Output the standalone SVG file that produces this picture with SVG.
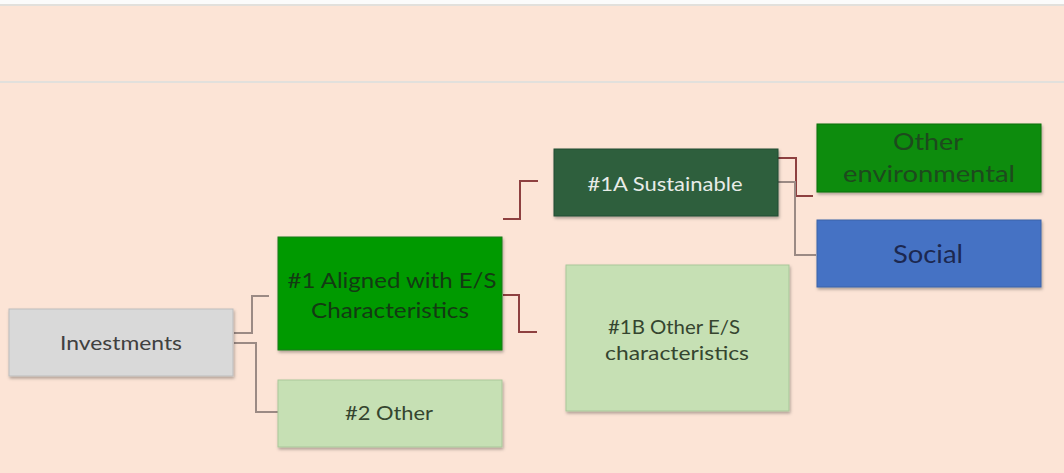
<svg xmlns="http://www.w3.org/2000/svg" width="1064" height="473" viewBox="0 0 1064 473">
<defs>
<filter id="sh" x="-10%" y="-10%" width="125%" height="130%">
<feDropShadow dx="1" dy="2" stdDeviation="1.5" flood-color="#000" flood-opacity="0.3"/>
</filter>
</defs>
<style>
.box{filter:url(#sh);stroke-width:1}
text{font-family:Lato,"Open Sans","Liberation Sans",sans-serif;text-anchor:middle;dominant-baseline:central}
.c{fill:none;stroke-width:2}
.red{stroke:#8e4040}
.gry{stroke:#9b8a84}
</style>
<rect x="0" y="0" width="1064" height="473" fill="#fce4d6"/>
<rect x="0" y="0" width="1064" height="4" fill="#fbfbfb"/>
<rect x="0" y="4" width="1064" height="2" fill="#e2e0dc"/>
<rect x="0" y="81" width="1064" height="2" fill="#e2e0dc"/>
<g id="connectors">
<path class="c gry" d="M234 333 H252 V296 H269"/>
<path class="c gry" d="M234 343 H256 V412 H278"/>
<path class="c red" d="M503 295 H519 V332 H537"/>
<path class="c red" d="M503 219 H520 V181 H538"/>
<path class="c red" d="M778 158 H796 V196 H813"/>
<path class="c gry" d="M778 182 H795 V255 H816"/>
</g>
<g id="investments">
<rect class="box" x="9" y="309" width="224" height="67" fill="#d9d9d9" stroke="#bdbdbd"/>
<text x="121" y="342" font-size="20" fill="#404040" textLength="122" lengthAdjust="spacingAndGlyphs">Investments</text>
</g>
<g id="aligned">
<rect class="box" x="278" y="237" width="224" height="113" fill="#049a04" stroke="#1c7a1c"/>
<text x="392" y="279" font-size="22" fill="#133a13" textLength="209" lengthAdjust="spacingAndGlyphs">#1 Aligned with E/S</text>
<text x="390" y="309" font-size="22" fill="#133a13" textLength="158" lengthAdjust="spacingAndGlyphs">Characteristics</text>
</g>
<g id="other2">
<rect class="box" x="278" y="380" width="224" height="67" fill="#c6e0b4" stroke="#a9c79a"/>
<text x="389" y="412" font-size="20" fill="#35452f" textLength="88" lengthAdjust="spacingAndGlyphs">#2 Other</text>
</g>
<g id="sustainable">
<rect class="box" x="554" y="149" width="224" height="67" fill="#2d5e3d" stroke="#244d32"/>
<text x="665" y="183" font-size="19" fill="#e8ece8" textLength="155" lengthAdjust="spacingAndGlyphs">#1A Sustainable</text>
</g>
<g id="otherenv">
<rect class="box" x="817" y="124" width="224" height="68" fill="#078c07" stroke="#0a6e0a"/>
<text x="928" y="141" font-size="23" fill="#1d4a1d" textLength="70" lengthAdjust="spacingAndGlyphs">Other</text>
<text x="929" y="173" font-size="23" fill="#1d4a1d" textLength="172" lengthAdjust="spacingAndGlyphs">environmental</text>
</g>
<g id="social">
<rect class="box" x="817" y="220" width="224" height="67" fill="#4472c4" stroke="#3a62a8"/>
<text x="928" y="253" font-size="25" fill="#1c2850" textLength="70" lengthAdjust="spacingAndGlyphs">Social</text>
</g>
<g id="otheres">
<rect class="box" x="566" y="265" width="223" height="146" fill="#c6e0b4" stroke="#a9c79a"/>
<text x="674" y="326" font-size="20" fill="#35452f" textLength="132" lengthAdjust="spacingAndGlyphs">#1B Other E/S</text>
<text x="677" y="352" font-size="20" fill="#35452f" textLength="144" lengthAdjust="spacingAndGlyphs">characteristics</text>
</g>
</svg>
